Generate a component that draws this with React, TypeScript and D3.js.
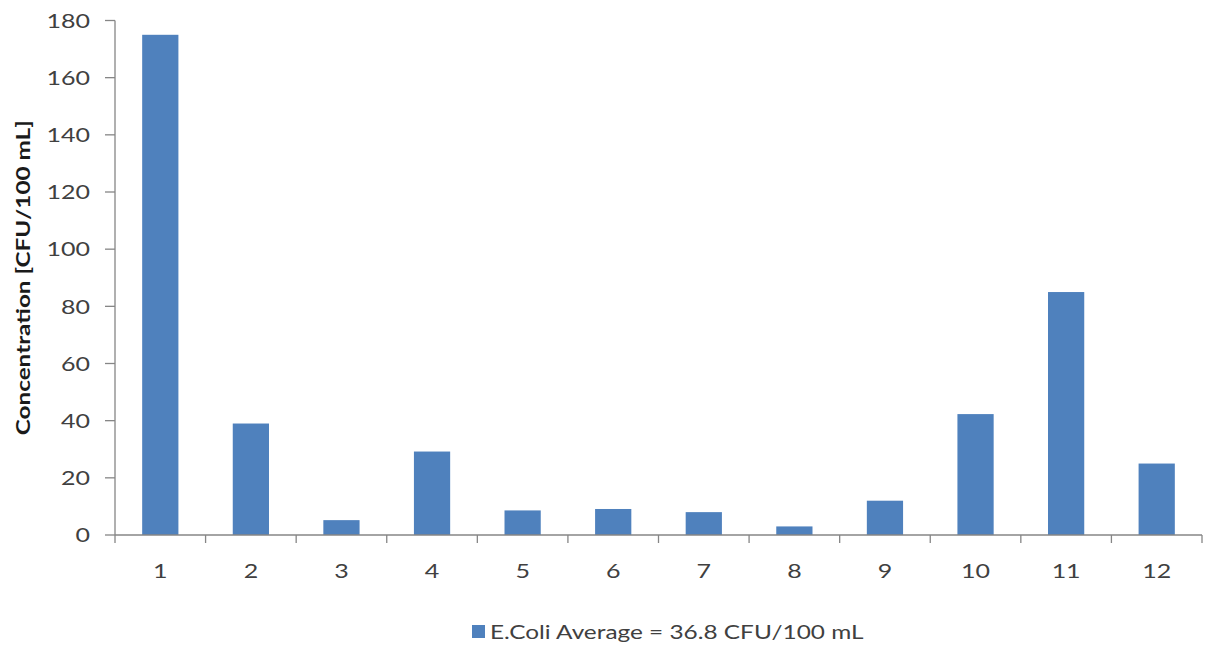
import React from "react";
import * as d3 from "d3";

// Sampling sites and their mean E. coli concentrations
const sites: string[] = ["1", "2", "3", "4", "5", "6", "7", "8", "9", "10", "11", "12"];
const concentrations: number[] = [175, 39, 5.2, 29.2, 8.6, 9.1, 8, 3, 12, 42.3, 85, 25];
const yTicks: number[] = [0, 20, 40, 60, 80, 100, 120, 140, 160, 180];
const legendLabel = "E.Coli Average = 36.8 CFU/100 mL";
const yTitle = "Concentration [CFU/100 mL]";

const W = 1209;
const H = 647;
const plot = { left: 115, right: 1202, top: 20.5, bottom: 535 };
const BAR = "#4F81BD";
const AXIS = "#868686";
const TEXT = "#404040";
const FONT = "Lato, 'Open Sans', sans-serif";
// horizontal stretch applied to labels along their reading direction
const STRETCH = 1.25;

export default function App() {
  const x = d3
    .scaleBand<string>()
    .domain(sites)
    .range([plot.left, plot.right])
    .paddingInner(0.6)
    .paddingOuter(0.3);
  const band = d3.scaleBand<string>().domain(sites).range([plot.left, plot.right]);
  const y = d3.scaleLinear().domain([0, 180]).range([plot.bottom, plot.top]);

  const boundaries = sites.map((s) => band(s) as number).concat([plot.right]);

  return (
    <svg
      width={W}
      height={H}
      style={{ position: "absolute", left: 0, top: 0, background: "#fff" }}
      fontFamily={FONT}
    >
      {/* bars */}
      {sites.map((s, i) => (
        <rect
          key={s}
          x={x(s)}
          y={y(concentrations[i])}
          width={x.bandwidth()}
          height={y(0) - y(concentrations[i])}
          fill={BAR}
        />
      ))}

      {/* y axis */}
      <line x1={plot.left} x2={plot.left} y1={y(180)} y2={y(0)} stroke={AXIS} strokeWidth={1.3} />
      {yTicks.map((t) => (
        <g key={t}>
          <line x1={plot.left - 10} x2={plot.left} y1={y(t)} y2={y(t)} stroke={AXIS} strokeWidth={1.3} />
          <text
            transform={`translate(${plot.left - 25}, ${y(t)}) scale(${STRETCH}, 1)`}
            dy="0.36em"
            textAnchor="end"
            fontSize={20}
            fill={TEXT}
          >
            {t}
          </text>
        </g>
      ))}

      {/* x axis */}
      <line x1={plot.left} x2={plot.right} y1={y(0)} y2={y(0)} stroke={AXIS} strokeWidth={1.3} />
      {boundaries.map((b, i) => (
        <line key={i} x1={b} x2={b} y1={y(0)} y2={y(0) + 8} stroke={AXIS} strokeWidth={1.3} />
      ))}
      {sites.map((s) => (
        <text
          key={s}
          transform={`translate(${(band(s) as number) + band.bandwidth() / 2}, 578) scale(${STRETCH}, 1)`}
          textAnchor="middle"
          fontSize={20}
          fill={TEXT}
        >
          {s}
        </text>
      ))}

      {/* y axis title */}
      <text
        transform={`translate(30, ${(plot.top + plot.bottom) / 2}) rotate(-90) scale(1.28, 1)`}
        textAnchor="middle"
        fontSize={19}
        fontWeight="bold"
        fill="#1a1a1a"
      >
        {yTitle}
      </text>

      {/* legend */}
      <rect x={472} y={625} width={13} height={13} fill={BAR} />
      <text transform={`translate(490, 639) scale(${STRETCH}, 1)`} fontSize={19.5} fill={TEXT}>
        {legendLabel}
      </text>
    </svg>
  );
}
